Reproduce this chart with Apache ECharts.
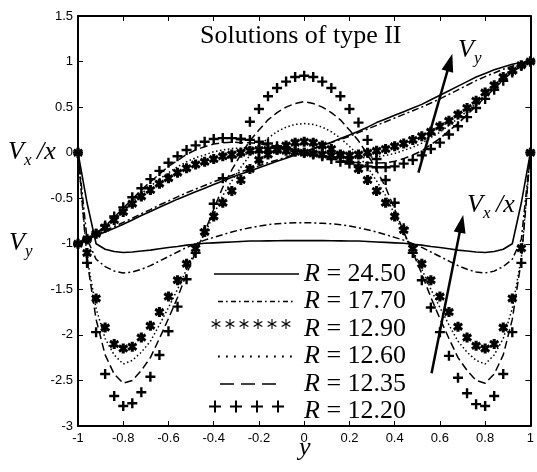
<!DOCTYPE html>
<html>
<head>
<meta charset="utf-8">
<script src="https://cdn.jsdelivr.net/npm/echarts@6/dist/echarts.min.js"></script>
<style>
  html, body { margin: 0; padding: 0; background: #fff; }
  #chart { width: 537px; height: 472px; }
</style>
</head>
<body>
<div id="chart"></div>
<script>
// y positions (every 0.04)
var ys = [-1,-0.96,-0.92,-0.88,-0.84,-0.8,-0.76,-0.72,-0.68,-0.64,-0.6,-0.56,-0.52,-0.48,-0.44,-0.4,-0.36,-0.32,-0.28,-0.24,-0.2,-0.16,-0.12,-0.08,-0.04,0,
          0.04,0.08,0.12,0.16,0.2,0.24,0.28,0.32,0.36,0.4,0.44,0.48,0.52,0.56,0.6,0.64,0.68,0.72,0.76,0.8,0.84,0.88,0.92,0.96,1];

var xTicks = [-1, 1, 0.2];     // min, max, step
var yTicks = [-3, 1.5, 0.5];

// Vx/x curves
var vx2450 = [0,-0.55,-1.0,-1.06,-1.085,-1.095,-1.09,-1.08,-1.07,-1.055,-1.04,-1.03,-1.015,-1.005,-0.995,-0.99,-0.985,-0.98,-0.975,-0.97,-0.97,-0.968,-0.966,-0.965,-0.965,-0.965,
              -0.965,-0.965,-0.966,-0.968,-0.97,-0.97,-0.975,-0.98,-0.985,-0.99,-0.995,-1.005,-1.015,-1.03,-1.04,-1.055,-1.07,-1.08,-1.09,-1.095,-1.085,-1.06,-1.0,-0.55,0];
var vx1770 = [0,-0.95,-1.17,-1.25,-1.3,-1.32,-1.31,-1.28,-1.24,-1.19,-1.14,-1.09,-1.04,-1.0,-0.96,-0.93,-0.9,-0.87,-0.845,-0.825,-0.805,-0.79,-0.78,-0.775,-0.77,-0.77,
              -0.77,-0.775,-0.78,-0.79,-0.805,-0.825,-0.845,-0.87,-0.9,-0.93,-0.96,-1.0,-1.04,-1.09,-1.14,-1.19,-1.24,-1.28,-1.31,-1.32,-1.3,-1.25,-1.17,-0.95,0];
var vx1290 = [0,-1.1,-1.6,-1.92,-2.1,-2.15,-2.13,-2.03,-1.9,-1.75,-1.58,-1.4,-1.22,-1.05,-0.87,-0.7,-0.55,-0.42,-0.3,-0.18,-0.08,-0.02,0.04,0.08,0.11,0.12,
              0.11,0.08,0.04,-0.02,-0.08,-0.18,-0.3,-0.42,-0.55,-0.7,-0.85,-1.05,-1.22,-1.4,-1.58,-1.75,-1.91,-2.03,-2.12,-2.15,-2.1,-1.92,-1.6,-1.05,0];
var vx1260 = [0,-1.15,-1.71,-2.04,-2.22,-2.32,-2.28,-2.19,-2.07,-1.89,-1.7,-1.5,-1.28,-1.07,-0.89,-0.68,-0.47,-0.31,-0.16,-0.03,0.07,0.16,0.23,0.28,0.31,0.32,
              0.31,0.28,0.23,0.16,0.07,-0.03,-0.16,-0.31,-0.47,-0.68,-0.89,-1.07,-1.28,-1.5,-1.7,-1.89,-2.07,-2.19,-2.28,-2.32,-2.22,-2.04,-1.71,-1.15,0];
var vx1235 = [0,-1.18,-1.83,-2.22,-2.43,-2.53,-2.5,-2.39,-2.25,-2.04,-1.82,-1.59,-1.33,-1.09,-0.87,-0.62,-0.38,-0.19,-0.02,0.13,0.25,0.36,0.44,0.5,0.54,0.56,
              0.54,0.5,0.44,0.36,0.25,0.13,-0.02,-0.19,-0.38,-0.62,-0.87,-1.09,-1.33,-1.59,-1.82,-2.04,-2.25,-2.39,-2.5,-2.53,-2.43,-2.22,-1.83,-1.18,0];
var vx1220 = [0,-1.21,-1.97,-2.43,-2.67,-2.78,-2.75,-2.63,-2.46,-2.22,-1.96,-1.69,-1.39,-1.1,-0.85,-0.56,-0.28,-0.05,0.15,0.34,0.48,0.62,0.71,0.78,0.83,0.845,
              0.83,0.78,0.71,0.62,0.48,0.33,0.14,-0.07,-0.3,-0.55,-0.83,-1.1,-1.4,-1.7,-1.97,-2.23,-2.47,-2.64,-2.76,-2.78,-2.67,-2.43,-1.97,-1.21,0];

// Vy curves
var vy2450 = [-1,-0.955,-0.91,-0.87,-0.83,-0.785,-0.74,-0.69,-0.645,-0.6,-0.555,-0.51,-0.47,-0.43,-0.39,-0.35,-0.31,-0.27,-0.235,-0.2,-0.165,-0.13,-0.095,-0.06,-0.025,0.01,
              0.045,0.08,0.115,0.155,0.195,0.235,0.28,0.33,0.37,0.41,0.45,0.49,0.53,0.58,0.63,0.68,0.73,0.78,0.83,0.87,0.91,0.94,0.97,0.99,1];
var vy1770 = [-1,-0.95,-0.9,-0.855,-0.81,-0.765,-0.72,-0.67,-0.625,-0.575,-0.53,-0.485,-0.44,-0.4,-0.36,-0.32,-0.285,-0.25,-0.21,-0.18,-0.145,-0.11,-0.08,-0.05,-0.015,0.01,
              0.04,0.075,0.11,0.145,0.18,0.22,0.26,0.3,0.34,0.38,0.42,0.46,0.5,0.545,0.59,0.64,0.69,0.74,0.79,0.835,0.875,0.915,0.95,0.98,1];
var vy1290 = [-1,-0.95,-0.89,-0.82,-0.74,-0.65,-0.56,-0.48,-0.41,-0.34,-0.28,-0.22,-0.17,-0.13,-0.1,-0.07,-0.04,-0.02,0,0.02,0.03,0.03,0.03,0.02,0.01,0,
              -0.01,-0.02,-0.03,-0.03,-0.03,-0.02,0,0.02,0.04,0.07,0.1,0.14,0.18,0.23,0.29,0.35,0.42,0.49,0.57,0.66,0.74,0.83,0.9,0.96,1];
var vy1260 = [-1,-0.95,-0.89,-0.81,-0.725,-0.63,-0.535,-0.45,-0.37,-0.29,-0.22,-0.155,-0.1,-0.055,-0.025,0.01,0.03,0.045,0.05,0.06,0.06,0.055,0.045,0.03,0.015,0,
              -0.015,-0.03,-0.045,-0.055,-0.06,-0.06,-0.05,-0.045,-0.03,-0.01,0.025,0.06,0.105,0.165,0.225,0.3,0.375,0.455,0.54,0.635,0.725,0.82,0.895,0.96,1];
var vy1235 = [-1,-0.95,-0.89,-0.805,-0.71,-0.61,-0.51,-0.41,-0.32,-0.235,-0.15,-0.085,-0.02,0.03,0.065,0.095,0.11,0.115,0.11,0.11,0.1,0.08,0.06,0.04,0.02,0,
              -0.02,-0.035,-0.06,-0.085,-0.1,-0.11,-0.11,-0.115,-0.11,-0.095,-0.065,-0.025,0.02,0.09,0.155,0.24,0.32,0.415,0.51,0.61,0.7,0.8,0.885,0.95,1];
var vy1220 = [-1,-0.95,-0.89,-0.8,-0.7,-0.6,-0.49,-0.39,-0.29,-0.2,-0.11,-0.04,0.03,0.08,0.12,0.15,0.16,0.16,0.15,0.14,0.12,0.1,0.07,0.05,0.02,0,
              -0.02,-0.04,-0.07,-0.1,-0.12,-0.14,-0.15,-0.16,-0.16,-0.15,-0.12,-0.08,-0.03,0.04,0.11,0.2,0.29,0.39,0.49,0.59,0.69,0.79,0.88,0.95,1];

var names = ['24.50', '17.70', '12.90', '12.60', '12.35', '12.20'];

// arrows: [start, end] in data coords
var arrowVy = [[0.505, -0.22], [0.644, 0.99]];
var arrowVx = [[0.563, -2.42], [0.695, -0.78]];

function pts(vals) {
    return ys.map(function (y, i) { return [y, vals[i]]; });
}

var plusPath = 'path://M3.8,0H6.2V3.8H10V6.2H6.2V10H3.8V6.2H0V3.8H3.8Z';
var astPath = 'path://M3.5,0L6.5,0L6.5,10L3.5,10Z' +
    'M8.3,0.75L9.8,3.35L1.7,9.25L0.2,6.65Z' +
    'M0.2,3.35L1.7,0.75L9.8,6.65L8.3,9.25Z';

// legend keys for the line curves, built on an 85 x 12 box
function rect(x, w, y, h) {
    return 'M' + x + ',' + y + 'H' + (x + w) + 'V' + (y + h) + 'H' + x + 'Z';
}
function box() { return 'path://' + rect(0, 0.02, 0, 0.02) + rect(84.98, 0.02, 11.98, 0.02); }
function pattern(parts, h) {
    var s = box();
    parts.forEach(function (p) { s += rect(p[0], p[1], 6 - h / 2, h); });
    return s;
}
var solidIcon = pattern([[0, 85]], 1.6);
var dashDotParts = [];
for (var p = 4; p + 6 <= 85; p += 13) { dashDotParts.push([p, 5]); if (p + 8 < 85) dashDotParts.push([p + 8, 1.6]); }
var dashDotIcon = pattern(dashDotParts, 1.6);
var dotParts = [];
for (var q = 4; q < 83; q += 8) dotParts.push([q, 1.8]);
var dotIcon = pattern(dotParts, 1.8);
var dashIcon = pattern([[6, 14], [27, 14], [48, 14]], 1.4);
var blankIcon = box();

// legend keys for the marker curves, drawn as small polygons
function bar(cx, cy, half, len, ang) {
    var c = Math.cos(ang), s = Math.sin(ang);
    return [[-half, -len], [half, -len], [half, len], [-half, len]].map(function (v) {
        return [cx + v[0] * c - v[1] * s, cy + v[0] * s + v[1] * c];
    });
}
function keyShapes(kind, x0, cy, n, pitch) {
    var out = [];
    for (var i = 0; i < n; i++) {
        var cx = x0 + i * pitch;
        var bars = kind === 'ast'
            ? [bar(cx, cy, 0.55, 5, 0), bar(cx, cy, 0.55, 5, Math.PI / 3), bar(cx, cy, 0.55, 5, -Math.PI / 3)]
            : [bar(cx, cy, 1, 6, 0), bar(cx, cy, 1, 6, Math.PI / 2)];
        bars.forEach(function (b) {
            out.push({ type: 'polygon', silent: true, shape: { points: b }, style: { fill: '#000' } });
        });
    }
    return out;
}

var chart = echarts.init(document.getElementById('chart'));
var serif = 'Liberation Serif';
var sans = 'Liberation Sans';
var black = '#000';

var dashDot = [7, 3, 2, 3];
var dashed = [8, 4];
var dotted = [1.5, 2.5];

function lineSeries(name, vals, type, width) {
    return {
        name: name, type: 'line', data: pts(vals), symbol: 'none',
        lineStyle: { color: black, width: width || 1.5, type: type },
        itemStyle: { color: black }, z: 3
    };
}
// marker curves get their own names so the legend entry comes only from the key series
function markSeries(name, vals, sym, size) {
    return {
        name: name + ' marks', type: 'scatter', data: pts(vals), symbol: sym, symbolSize: size,
        itemStyle: { color: black, opacity: 1 }, z: 4
    };
}
// legend-only entry (no data, no symbol)
function keySeries(name) {
    return { name: name, type: 'line', data: [], symbol: 'none', lineStyle: { width: 0 }, itemStyle: { color: black } };
}

function axisCommon(pos) {
    return {
        type: 'value', position: pos,
        axisLine: { show: true, onZero: false, lineStyle: { color: black, width: 2 } },
        axisTick: { show: true, inside: true, length: 5, lineStyle: { color: black, width: 1 } },
        splitLine: { show: false }
    };
}

var xb = axisCommon('bottom');
xb.min = xTicks[0]; xb.max = xTicks[1]; xb.interval = xTicks[2];
xb.axisLabel = { color: black, fontFamily: sans, fontSize: 13, margin: 6 };
var xt = axisCommon('top');
xt.min = xTicks[0]; xt.max = xTicks[1]; xt.interval = xTicks[2];
xt.axisLabel = { show: false };
var yl = axisCommon('left');
yl.min = yTicks[0]; yl.max = yTicks[1]; yl.interval = yTicks[2];
yl.axisLabel = { color: black, fontFamily: sans, fontSize: 13, margin: 5 };
var yr = axisCommon('right');
yr.min = yTicks[0]; yr.max = yTicks[1]; yr.interval = yTicks[2];
yr.axisLabel = { show: false };

var solidVy = lineSeries(names[0], vy2450, 'solid', 1.6);
solidVy.markLine = {
    silent: true,
    label: { show: false },
    lineStyle: { color: black, width: 2.5, type: 'solid' },
    itemStyle: { color: black },
    data: [
        [{ coord: arrowVy[0], symbol: 'none' }, { coord: arrowVy[1], symbol: 'triangle', symbolSize: [12, 18] }],
        [{ coord: arrowVx[0], symbol: 'none' }, { coord: arrowVx[1], symbol: 'triangle', symbolSize: [12, 18] }]
    ]
};

function txt(s, left, top, size, italic) {
    return {
        type: 'text', left: left, top: top, silent: true,
        style: { text: s, fontFamily: serif, fontSize: size, fontStyle: italic ? 'italic' : 'normal', fill: black }
    };
}

var texts = [
    txt('Solutions of type II', 200, 23, 26, false),
    txt('V', 8, 139, 26, true), txt('x', 24, 152, 17, true), txt('/x', 37, 139, 26, true),
    txt('V', 9, 230, 26, true), txt('y', 25, 243, 17, true),
    txt('V', 458, 37, 26, true), txt('y', 474, 50, 17, true),
    txt('V', 467, 192, 26, true), txt('x', 483, 205, 17, true), txt('/x', 496, 192, 26, true),
    txt('y', 299, 435, 26, true)
];

var option = {
    animation: false,
    backgroundColor: '#fff',
    grid: { left: 78, right: 4, top: 16, bottom: 46 },
    xAxis: [xb, xt],
    yAxis: [yl, yr],
    legend: {
        orient: 'vertical', left: 209, top: 256,
        itemWidth: 85, itemHeight: 12, itemGap: 1.5,
        selectedMode: false,
        formatter: function (n) { return '{r|R} = ' + n; },
        textStyle: {
            color: black, fontFamily: serif, fontSize: 26, lineHeight: 26,
            rich: { r: { fontFamily: serif, fontStyle: 'italic', fontSize: 26, color: black, lineHeight: 26 } }
        },
        data: [
            { name: names[0], icon: solidIcon },
            { name: names[1], icon: dashDotIcon },
            { name: names[2], icon: blankIcon },
            { name: names[3], icon: dotIcon },
            { name: names[4], icon: dashIcon },
            { name: names[5], icon: blankIcon }
        ]
    },
    graphic: texts
        .concat(keyShapes('ast', 216, 324, 6, 14))
        .concat(keyShapes('plus', 215, 406.5, 4, 21)),
    series: [
        keySeries(names[2]),
        keySeries(names[5]),
        lineSeries(names[0], vx2450, 'solid', 1.6),
        solidVy,
        lineSeries(names[1], vx1770, dashDot),
        lineSeries(names[1], vy1770, dashDot),
        markSeries(names[2], vx1290, astPath, 10),
        markSeries(names[2], vy1290, astPath, 10),
        lineSeries(names[3], vx1260, dotted),
        lineSeries(names[3], vy1260, dotted),
        lineSeries(names[4], vx1235, dashed),
        lineSeries(names[4], vy1235, dashed),
        markSeries(names[5], vx1220, plusPath, 10),
        markSeries(names[5], vy1220, plusPath, 10)
    ]
};
chart.setOption(option);
</script>
</body>
</html>
